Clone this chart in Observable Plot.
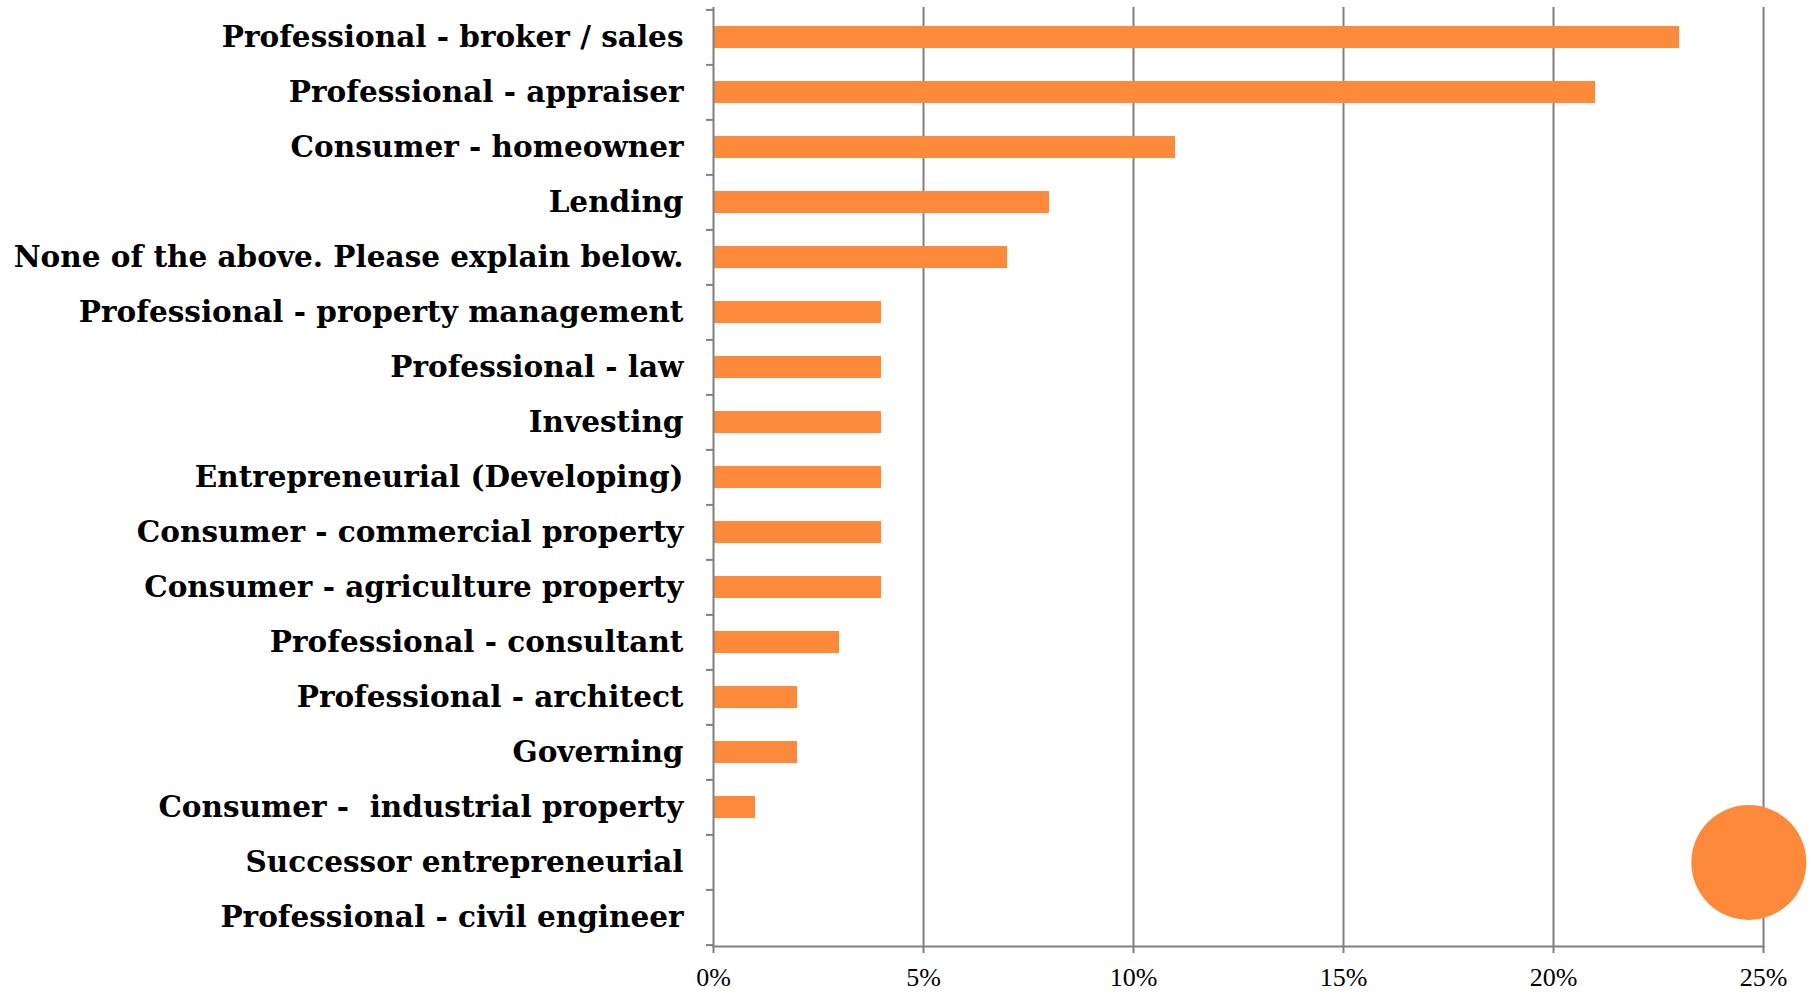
<!DOCTYPE html>
<html>
<head>
<meta charset="utf-8">
<script src="https://cdn.jsdelivr.net/npm/d3@7"></script>
<script src="https://cdn.jsdelivr.net/npm/@observablehq/plot@0.6"></script>
<style>
  html, body { margin: 0; padding: 0; background: #fff; }
  svg text { white-space: pre; }
</style>
</head>
<body>
<div id="chart"></div>
<script>
const categories = [
  "Professional - broker / sales",
  "Professional - appraiser",
  "Consumer - homeowner",
  "Lending",
  "None of the above. Please explain below.",
  "Professional - property management",
  "Professional - law",
  "Investing",
  "Entrepreneurial (Developing)",
  "Consumer - commercial property",
  "Consumer - agriculture property",
  "Professional - consultant",
  "Professional - architect",
  "Governing",
  "Consumer -  industrial property",
  "Successor entrepreneurial",
  "Professional - civil engineer"
];
const values = [23, 21, 11, 8, 7, 4, 4, 4, 4, 4, 4, 3, 2, 2, 1, 0, 0];
const xTicks = [0, 5, 10, 15, 20, 25];
const gridTicks = [5, 10, 15, 20, 25];
const markerCategory = ["Successor entrepreneurial"];
const markerValue = [24.65];

const data = categories.map((c, i) => ({category: c, value: values[i]}));
const marker = markerCategory.map((c, i) => ({category: c, value: markerValue[i]}));

const W = 1815, H = 993;
const mTop = 7, mBottom = 47, mLeft = 713, mRight = 52;
const step = (H - mTop - mBottom) / categories.length;
const orange = "#fd8a3a";
const gray = "#808080";

const chart = Plot.plot({
  width: W,
  height: H,
  marginTop: mTop,
  marginBottom: mBottom,
  marginLeft: mLeft,
  marginRight: mRight,
  style: {fontFamily: "DejaVu Serif", background: "#fff", color: "#000"},
  x: {domain: [0, 25], label: null},
  y: {domain: categories, paddingInner: 0.6, paddingOuter: 0.3, label: null},
  marks: [
    Plot.ruleX(gridTicks, {stroke: gray, strokeWidth: 2}),
    Plot.barX(data, {x: "value", y: "category", fill: orange}),
    Plot.ruleX([0], {stroke: gray, strokeWidth: 2}),
    Plot.frame({anchor: "bottom", stroke: gray, strokeWidth: 2}),
    Plot.axisX({
      ticks: xTicks, tickFormat: d => d + "%", tickSize: 7, tickPadding: 14,
      stroke: gray, strokeWidth: 2, fontSize: 26, fontFamily: "Liberation Serif",
      fill: "#000", label: null
    }),
    Plot.axisY({
      ticks: categories, tickSize: 0, tickPadding: 30, fontSize: 29.5,
      fontWeight: "bold", fill: "#000", label: null
    }),
    Plot.axisY({
      ticks: categories, tickSize: 7, tickFormat: () => "", dy: -step / 2,
      stroke: gray, strokeWidth: 2, label: null
    }),
    Plot.axisY({
      ticks: categories.slice(-1), tickSize: 7, tickFormat: () => "", dy: step / 2,
      stroke: gray, strokeWidth: 2, label: null
    }),
    Plot.dot(marker, {x: "value", y: "category", r: 57.5, fill: orange, stroke: null})
  ]
});
document.getElementById("chart").appendChild(chart);
</script>
</body>
</html>
